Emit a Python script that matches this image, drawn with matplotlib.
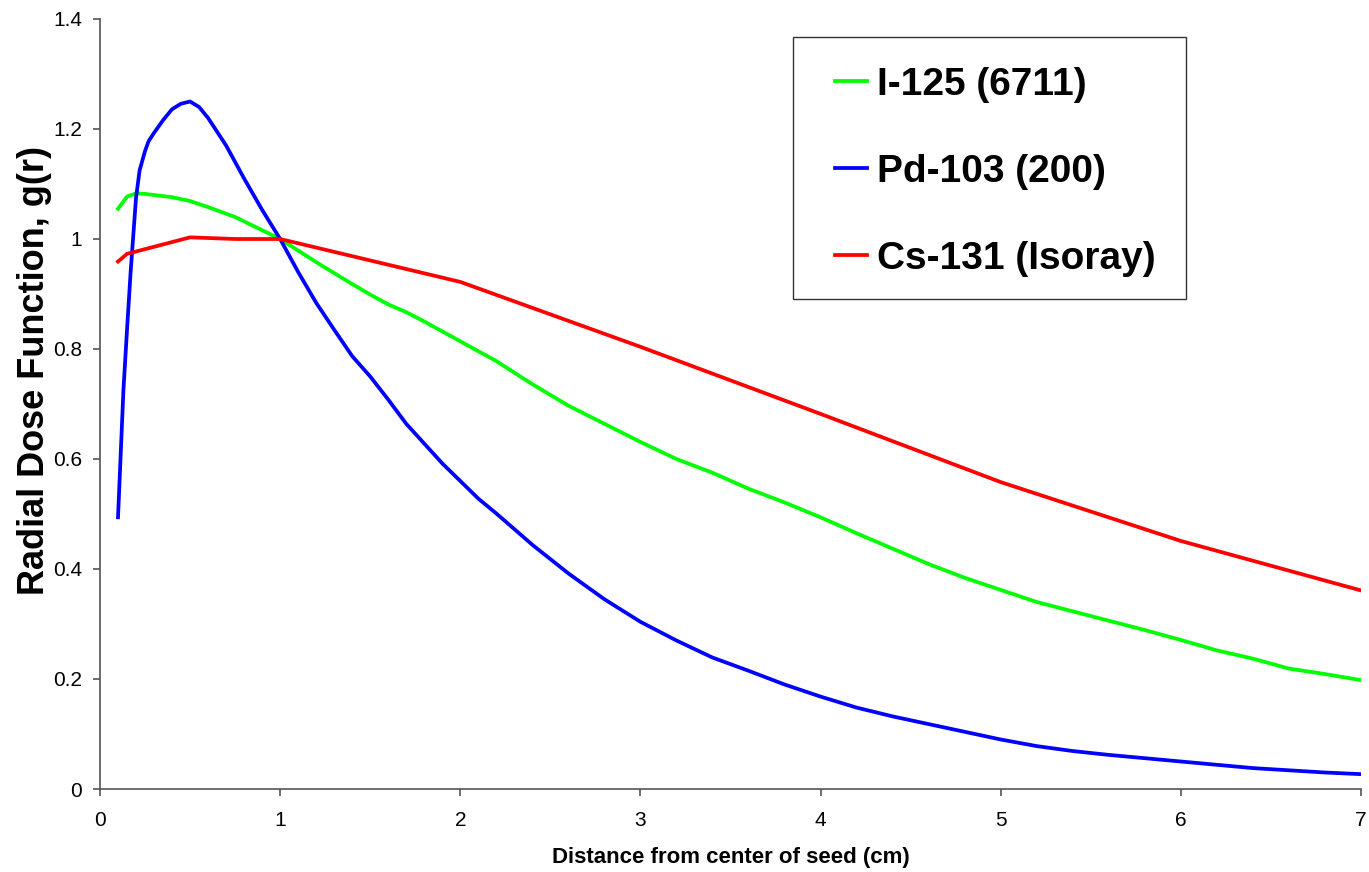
import matplotlib
matplotlib.use("Agg")
import matplotlib.pyplot as plt
from matplotlib.patches import Rectangle

plt.rcParams['font.family'] = ['Liberation Sans', 'DejaVu Sans']

# I-125 (6711)
i125_r = [0.1, 0.15, 0.2, 0.25, 0.3, 0.4, 0.5, 0.6, 0.7, 0.75, 0.8, 0.9, 1.0,
          1.2, 1.4, 1.5, 1.6, 1.7, 1.8, 1.9, 2.0, 2.1, 2.2, 2.4, 2.6, 2.8, 3.0,
          3.2, 3.4, 3.6, 3.8, 4.0, 4.2, 4.4, 4.6, 4.8, 5.0, 5.2, 5.4, 5.6, 5.8,
          6.0, 6.2, 6.4, 6.6, 6.8, 7.0]
i125_g = [1.055, 1.077, 1.083, 1.082, 1.080, 1.076, 1.069, 1.058, 1.046, 1.040, 1.032, 1.016, 1.000,
          0.958, 0.918, 0.899, 0.881, 0.867, 0.850, 0.832, 0.814, 0.796, 0.778, 0.736, 0.697, 0.664, 0.631,
          0.600, 0.575, 0.546, 0.521, 0.494, 0.465, 0.437, 0.409, 0.384, 0.362, 0.340, 0.323, 0.306, 0.289,
          0.271, 0.252, 0.237, 0.219, 0.209, 0.198]

# Pd-103 (200)
pd103_r = [0.1, 0.13, 0.15, 0.17, 0.2, 0.22, 0.25, 0.27, 0.3, 0.35, 0.4, 0.45, 0.5, 0.55, 0.6,
           0.7, 0.8, 0.9, 1.0, 1.1, 1.2, 1.3, 1.4, 1.5, 1.6, 1.7, 1.8, 1.9, 2.0, 2.1, 2.2,
           2.4, 2.6, 2.8, 3.0, 3.2, 3.4, 3.6, 3.8, 4.0, 4.2, 4.4, 4.6, 4.8, 5.0, 5.2, 5.4,
           5.6, 5.8, 6.0, 6.2, 6.4, 6.6, 6.8, 7.0]
pd103_g = [0.494, 0.725, 0.835, 0.940, 1.075, 1.125, 1.160, 1.178, 1.193, 1.216, 1.236, 1.246, 1.250, 1.240, 1.220,
           1.170, 1.110, 1.053, 1.000, 0.940, 0.884, 0.835, 0.787, 0.750, 0.708, 0.664, 0.628, 0.592, 0.560, 0.528, 0.501,
           0.444, 0.392, 0.345, 0.304, 0.270, 0.239, 0.215, 0.190, 0.168, 0.148, 0.132, 0.118, 0.104, 0.090, 0.078, 0.069,
           0.062, 0.056, 0.050, 0.044, 0.038, 0.034, 0.030, 0.027]

# Cs-131 (Isoray)
cs131_r = [0.1, 0.15, 0.5, 0.75, 1.0, 2.0, 3.0, 4.0, 5.0, 6.0, 7.0]
cs131_g = [0.959, 0.973, 1.003, 1.000, 1.000, 0.922, 0.804, 0.682, 0.558, 0.451, 0.361]

W, H = 1369, 872
fig = plt.figure(figsize=(W / 100, H / 100), dpi=100)
ax = fig.add_axes([100 / W, 1 - 789 / H, 1261 / W, 770 / H])

lw = 2.7
ax.plot(i125_r, i125_g, color='#00ff00', lw=lw, label='I-125 (6711)')
ax.plot(pd103_r, pd103_g, color='#0000ff', lw=lw, label='Pd-103 (200)')
ax.plot(cs131_r, cs131_g, color='#ff0000', lw=lw, label='Cs-131 (Isoray)')

ax.set_xlim(0, 7)
ax.set_ylim(0, 1.4)
ax.set_xticks(range(0, 8))
ax.set_yticks([0, 0.2, 0.4, 0.6, 0.8, 1, 1.2, 1.4])
ax.set_yticklabels(['0', '0.2', '0.4', '0.6', '0.8', '1', '1.2', '1.4'])

for s in ['top', 'right']:
    ax.spines[s].set_visible(False)
for s in ['left', 'bottom']:
    ax.spines[s].set_color('#555555')
    ax.spines[s].set_linewidth(1.2)
ax.tick_params(direction='out', length=5, width=1.2, color='#555555', labelsize=15)
ax.tick_params(axis='y', pad=8)
ax.tick_params(axis='x', pad=11)

ax.set_xlabel('Distance from center of seed (cm)', fontsize=16, fontweight='bold', labelpad=12)
ax.set_ylabel('Radial Dose Function, g(r)', fontsize=26, fontweight='bold')
ax.yaxis.set_label_coords(-0.038, 0.544)

# legend box drawn separately so padding can match
fig.patches.append(Rectangle((793 / W, 1 - 299 / H), 393 / W, 262 / H,
                             transform=fig.transFigure, fill=False,
                             edgecolor='#333333', lw=1.0))
leg = ax.legend(loc='upper left', bbox_to_anchor=(835 / W, 1 - 67 / H),
                bbox_transform=fig.transFigure, frameon=False,
                handlelength=0.82, handletextpad=0.26, labelspacing=1.31,
                borderpad=0, borderaxespad=0, prop={'weight': 'bold', 'size': 28})

fig.savefig('out.png', dpi=100)
